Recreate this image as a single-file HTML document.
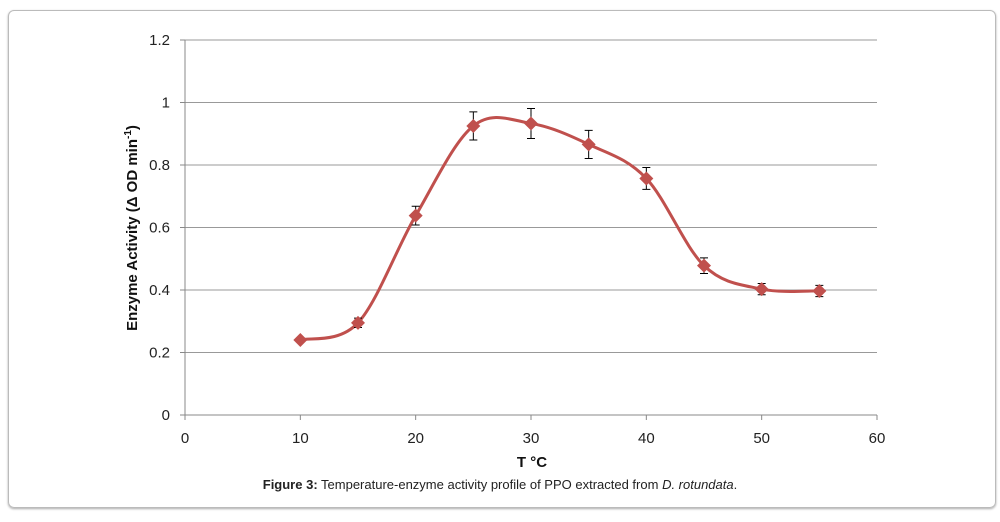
<!DOCTYPE html>
<html><head><meta charset="utf-8"><style>
body{margin:0;background:#fff;width:1000px;height:522px;overflow:hidden;font-family:"Liberation Sans",sans-serif}
#frame{position:absolute;left:8px;top:10px;width:986px;height:496px;border:1px solid #bbb;border-radius:6px;box-shadow:0 1px 2px #aaa}
</style></head><body>
<div id="frame"></div>
<svg id="chart" width="1000" height="522" style="position:absolute;left:0;top:0"></svg>
<script>
const temps=[10,15,20,25,30,35,40,45,50,55];
const activity=[0.24,0.295,0.638,0.925,0.933,0.866,0.757,0.478,0.403,0.397];
const errors=[0.005,0.015,0.03,0.045,0.048,0.045,0.035,0.025,0.018,0.018];
const xTicks=[0,10,20,30,40,50,60];
const yTicks=[0,0.2,0.4,0.6,0.8,1,1.2];
const yLabels=["0","0.2","0.4","0.6","0.8","1","1.2"];
const svg=document.getElementById('chart');const NS='http://www.w3.org/2000/svg';
const X=v=>185+v*(877-185)/60, Y=v=>415-v*(375/1.2);
function mk(t,a,p){const e=document.createElementNS(NS,t);for(const k in a)e.setAttribute(k,a[k]);(p||svg).appendChild(e);return e;}
yTicks.forEach((v,i)=>{
 const g=mk('line',{x1:185,x2:877,y1:Y(v),y2:Y(v),stroke:v===0?'#888':'#999','stroke-width':1});
 
 mk('line',{x1:180,x2:185,y1:Y(v),y2:Y(v),stroke:'#888'});
 const t=mk('text',{x:170,y:Y(v)+5,'text-anchor':'end','font-size':15,fill:'#222'});t.textContent=yLabels[i];
 
});
mk('line',{x1:185,x2:185,y1:Y(1.2),y2:415,stroke:'#888'});
xTicks.forEach(v=>{
 mk('line',{x1:X(v),x2:X(v),y1:415,y2:420,stroke:'#888'});
 const t=mk('text',{x:X(v),y:443,'text-anchor':'middle','font-size':15,fill:'#222'});t.textContent=v;
 
});
// smooth line (Catmull-Rom)
const pts=temps.map((t,i)=>[X(t),Y(activity[i])]);
let d='M'+pts[0].join(',');
for(let i=0;i<pts.length-1;i++){const p0=pts[Math.max(0,i-1)],p1=pts[i],p2=pts[i+1],p3=pts[Math.min(pts.length-1,i+2)];
 d+=` C${p1[0]+(p2[0]-p0[0])/6},${p1[1]+(p2[1]-p0[1])/6} ${p2[0]-(p3[0]-p1[0])/6},${p2[1]-(p3[1]-p1[1])/6} ${p2[0]},${p2[1]}`;}
const line=mk('path',{d:d,fill:'none',stroke:'#c0504d','stroke-width':3});

temps.forEach((t,i)=>{
 const x=X(t),y1=Y(activity[i]+errors[i]),y2=Y(activity[i]-errors[i]);
 const eb=mk('path',{d:`M${x},${y1}V${y2}M${x-4},${y1}H${x+4}M${x-4},${y2}H${x+4}`,stroke:'#000','stroke-width':1,fill:'none'});
 
 const y=Y(activity[i]);
 const m=mk('polygon',{points:`${x},${y-7} ${x+7},${y} ${x},${y+7} ${x-7},${y}`,fill:'#c0504d'});
 
});
</script>
<div style="position:absolute;left:132px;top:228px;transform:translate(-50%,-50%) rotate(-90deg);font-weight:bold;font-size:15px;white-space:nowrap;color:#111">Enzyme Activity (Δ OD min<sup style="font-size:10px">-1</sup>)</div>
<div style="position:absolute;left:0;width:1064px;text-align:center;top:454px;font-weight:bold;font-size:15px;color:#111">T °C</div>
<div style="position:absolute;left:0;width:1000px;text-align:center;top:477px;font-size:13px;color:#222"><b>Figure 3:</b> Temperature-enzyme activity profile of PPO extracted from <i>D. rotundata</i>.</div>
</body></html>
